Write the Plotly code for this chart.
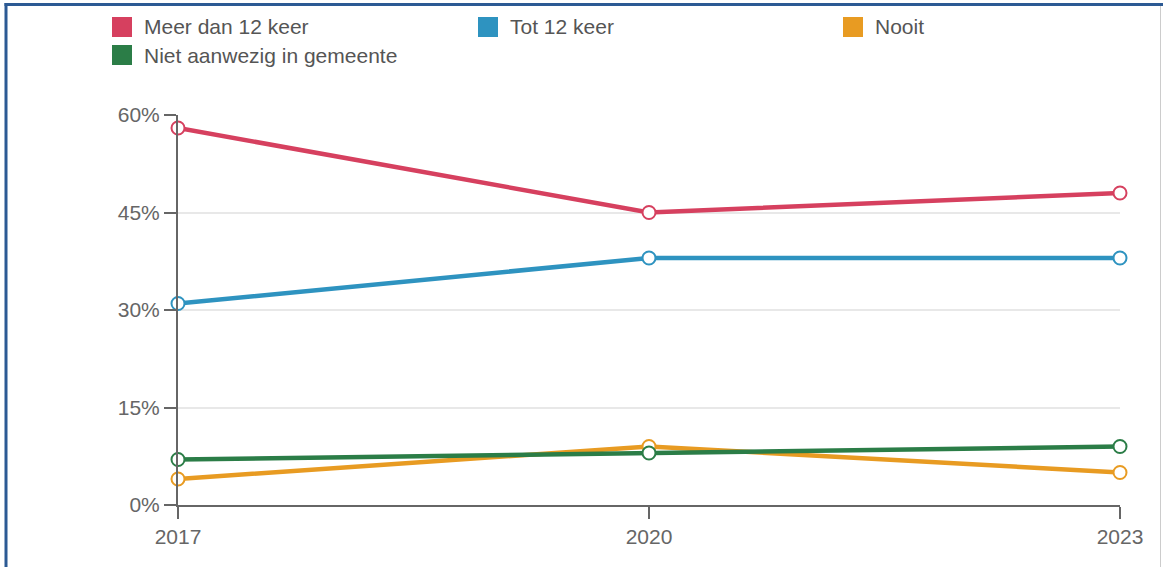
import plotly.graph_objects as go

# ---------------------------------------------------------------------
# Data
# ---------------------------------------------------------------------
years = [2017, 2020, 2023]

series_names = ["Meer dan 12 keer", "Tot 12 keer", "Nooit", "Niet aanwezig in gemeente"]
meer_dan_12 = [58, 45, 48]
tot_12 = [31, 38, 38]
nooit = [4, 9, 5]
niet_aanwezig = [7, 8, 9]

y_ticks = [0, 15, 30, 45, 60]
y_ticktext = ["0%", "15%", "30%", "45%", "60%"]

colors = ["#d6405f", "#2e93c0", "#e89b22", "#2b7d47"]

# ---------------------------------------------------------------------
# Canvas geometry (pixels); body margin is removed in post_script
# ---------------------------------------------------------------------
W, H = 1163, 567
ML, MT = 178, 115
PW, PH = 942, 390
MR, MB = W - ML - PW, H - MT - PH
FONT = "Liberation Sans, Arial, sans-serif"


def xp(px):
    # page pixel -> paper x
    return (px - ML) / PW


def yp(py):
    # page pixel -> paper y
    return (MT + PH - py) / PH


fig = go.Figure()

for name, vals, col in zip(series_names, [meer_dan_12, tot_12, nooit, niet_aanwezig], colors):
    fig.add_trace(
        go.Scatter(
            x=years,
            y=vals,
            name=name,
            mode="lines+markers",
            line=dict(color=col, width=4.5),
            marker=dict(size=13, color="white", line=dict(color=col, width=2)),
            cliponaxis=False,
            showlegend=False,
            hovertemplate=name + ": %{y}%<extra></extra>",
        )
    )

# ---------------------------------------------------------------------
# Legend (drawn by hand: square swatches, 3 columns)
# ---------------------------------------------------------------------
shapes = []
annotations = []
legend_pos = [(112, 27), (478, 27), (843, 27), (112, 55)]
for (lx, ly), name, col in zip(legend_pos, series_names, colors):
    shapes.append(dict(
        type="rect", xref="paper", yref="paper",
        x0=xp(lx), x1=xp(lx + 20), y0=yp(ly - 10), y1=yp(ly + 10),
        fillcolor=col, line=dict(width=0), layer="above",
    ))
    annotations.append(dict(
        xref="paper", yref="paper", x=xp(lx + 30), y=yp(ly),
        xanchor="left", yanchor="middle", showarrow=False,
        text=name, font=dict(family=FONT, size=21, color="#555555"),
    ))

# Frame around the chart
shapes.append(dict(type="line", xref="paper", yref="paper",
                   x0=xp(4.5), x1=xp(1170), y0=yp(4.5), y1=yp(4.5),
                   line=dict(color="#2c5a94", width=3)))
shapes.append(dict(type="line", xref="paper", yref="paper",
                   x0=xp(6), x1=xp(6), y0=yp(3), y1=yp(575),
                   line=dict(color="#2c5a94", width=3)))
shapes.append(dict(type="line", xref="paper", yref="paper",
                   x0=xp(1160.5), x1=xp(1160.5), y0=yp(6), y1=yp(575),
                   line=dict(color="#cccccc", width=1)))

fig.update_layout(
    width=W,
    height=H,
    margin=dict(l=ML, r=MR, t=MT, b=MB),
    paper_bgcolor="white",
    plot_bgcolor="white",
    font=dict(family=FONT, size=21, color="#666666"),
    shapes=shapes,
    annotations=annotations,
    hovermode="closest",
)

fig.update_xaxes(
    range=[2017, 2023],
    tickvals=years,
    ticktext=[str(y) for y in years],
    showline=True,
    linecolor="#666666",
    linewidth=2,
    ticks="outside",
    ticklen=12,
    tickwidth=2,
    tickcolor="#666666",
    showgrid=False,
    zeroline=False,
    tickfont=dict(size=21, color="#666666"),
)

fig.update_yaxes(
    range=[0, 60],
    tickvals=y_ticks,
    ticktext=y_ticktext,
    showline=True,
    linecolor="#666666",
    linewidth=2,
    ticks="outside",
    ticklen=12,
    tickwidth=2,
    tickcolor="#666666",
    showgrid=True,
    gridcolor="#e8e8e8",
    gridwidth=2,
    zeroline=False,
    tickfont=dict(size=21, color="#666666"),
)

fig.write_html(
    "out.html",
    config={"displayModeBar": False},
    post_script="document.body.style.margin='0';document.body.style.overflow='hidden';",
)
